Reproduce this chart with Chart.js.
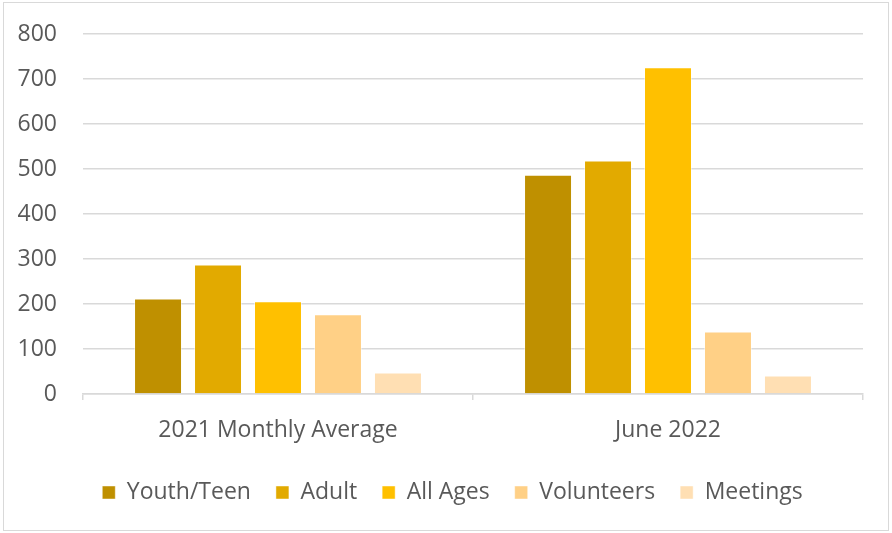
<!DOCTYPE html>
<html>
<head>
<meta charset="utf-8">
<script src="https://cdn.jsdelivr.net/npm/chart.js@4.4.1/dist/chart.umd.min.js"></script>
<style>
  html, body { margin: 0; padding: 0; background: #fff; }
  #wrap { width: 892px; height: 533px; position: relative; }
</style>
</head>
<body>
<div id="wrap"><canvas id="chart" width="892" height="533"></canvas></div>
<script>
// categories and series
const categories = ['2021 Monthly Average', 'June 2022'];
const seriesNames = ['Youth/Teen', 'Adult', 'All Ages', 'Volunteers', 'Meetings'];
const youthTeen = [212, 487];
const adult = [288, 519];
const allAges = [206, 726];
const volunteers = [177, 139];
const meetings = [48, 41];
const yTicks = [0, 100, 200, 300, 400, 500, 600, 700, 800];

const seriesValues = [youthTeen, adult, allAges, volunteers, meetings];
const seriesColors = ['#BF9000', '#E2AA00', '#FFC000', '#FFD086', '#FFDFB3'];

const gray = '#595959';
const lineGray = '#d9d9d9';
const font = { family: "'Open Sans', sans-serif", size: 23 };

// thin frame round the whole chart, like the original
const framePlugin = {
    id: 'frame',
    afterLayout(chart) {
        // legend sits centred on the whole frame, not on the plot
        if (chart.legend) { chart.legend.left += 21; chart.legend.right += 21; }
    },
    afterDraw(chart) {
        const c = chart.ctx;
        c.save();
        c.strokeStyle = lineGray;
        c.lineWidth = 1;
        c.strokeRect(3.5, 2.5, chart.width - 7, chart.height - 5);
        c.restore();
    }
};

new Chart(document.getElementById('chart'), {
    type: 'bar',
    data: {
        labels: categories,
        datasets: seriesNames.map((name, i) => ({
            label: name,
            data: seriesValues[i],
            backgroundColor: seriesColors[i],
            borderColor: 'rgba(255,255,255,0.45)',
            borderWidth: 1,
            barPercentage: 0.8,
            categoryPercentage: 0.769
        }))
    },
    options: {
        responsive: false,
        animation: false,
        layout: { padding: { top: 34, right: 29, bottom: 19, left: 0 } },
        plugins: {
            tooltip: { enabled: false },
            legend: {
                position: 'bottom',
                labels: { color: gray, font: font, boxWidth: 13, boxHeight: 13, padding: 25 }
            }
        },
        scales: {
            y: {
                min: 0, max: 800,
                afterBuildTicks: s => { s.ticks = yTicks.map(v => ({ value: v })); },
                afterFit: s => { s.width = 83; s.paddingTop = 0; s.paddingBottom = 0; },
                grid: { color: lineGray, lineWidth: 1.5, drawTicks: false },
                border: { display: false },
                ticks: { color: gray, font: font, padding: 26 }
            },
            x: {
                afterFit: s => { s.height = 62; s.paddingLeft = 0; s.paddingRight = 0; },
                grid: { color: lineGray, lineWidth: 1.5, drawOnChartArea: false, drawTicks: true, tickLength: 6 },
                border: { color: lineGray, width: 1.5 },
                ticks: { color: gray, font: font, padding: 17 }
            }
        }
    },
    plugins: [framePlugin]
});
</script>
</body>
</html>
